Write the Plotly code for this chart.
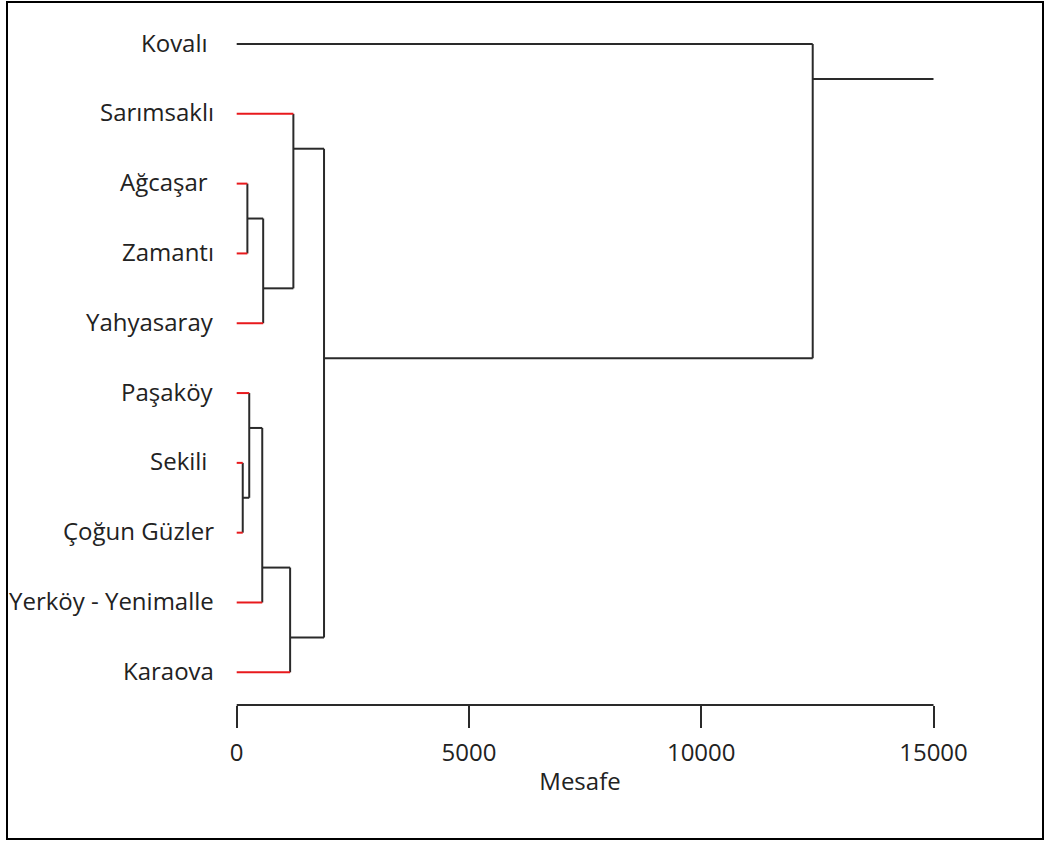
import plotly.graph_objects as go

# Leaf labels, top to bottom (dendrogram order)
leaves = ["Kovalı\u00a0", "Sarımsaklı", "Ağcaşar\u00a0", "Zamantı", "Yahyasaray",
          "Paşaköy", "Sekili\u00a0", "Çoğun Güzler", "Yerköy - Yenimalle", "Karaova"]

# Agglomeration steps: node ids >= len(leaves) refer to earlier merges
merge_left = [6, 2, 5, 12, 11, 13, 1, 16, 0]
merge_right = [7, 3, 10, 8, 4, 9, 14, 15, 17]
merge_height = [130, 230, 270, 550, 570, 1150, 1220, 1880, 12400]

root_end = 15000
x_ticks = [0, 5000, 10000, 15000]
x_title = "Mesafe"
cut_height = 5000  # leaves joining below this height belong to a colored cluster

# ---- page geometry (pixels) ----
W, H = 1046, 843
PL, PR, PT, PB = 200, 960, 10, 705
X0_PX, XMAX_PX = 236.7, 933.5
Y_FIRST, Y_LAST = 44.0, 672.3

x_per_px = 15000 / (XMAX_PX - X0_PX)
x_range = [(PL - X0_PX) * x_per_px, (PR - X0_PX) * x_per_px]
step = (Y_LAST - Y_FIRST) / (len(leaves) - 1)
y_range = [(PB - Y_FIRST) / step, (PT - Y_FIRST) / step]

n = len(leaves)
span = {i: (i, i) for i in range(n)}        # leaf index range of each node
pos = {i: float(i) for i in range(n)}       # vertical position of each node
height = {i: 0.0 for i in range(n)}

black_x, black_y, red_x, red_y = [], [], [], []

def add(xs, ys, seg_x, seg_y):
    xs.extend(seg_x + [None])
    ys.extend(seg_y + [None])

for k, (a, b, h) in enumerate(zip(merge_left, merge_right, merge_height)):
    node = n + k
    span[node] = (min(span[a][0], span[b][0]), max(span[a][1], span[b][1]))
    # node sits on the boundary between its two children
    pos[node] = (span[a][1] + span[b][0]) / 2
    height[node] = h
    for c in (a, b):
        if c < n:
            if h < cut_height:
                add(red_x, red_y, [0, h], [pos[c], pos[c]])
            else:
                add(black_x, black_y, [0, h], [pos[c], pos[c]])
        else:
            add(black_x, black_y, [height[c], h], [pos[c], pos[c]])
    add(black_x, black_y, [h, h], [pos[a], pos[b]])

root = n + len(merge_height) - 1
add(black_x, black_y, [height[root], root_end], [pos[root], pos[root]])

LINE_BLACK = "#2a2a2a"
LINE_RED = "#e8191c"
FONT = "Open Sans, sans-serif"
FS = 24
TEXT = "#222222"

fig = go.Figure()
fig.add_trace(go.Scatter(x=black_x, y=black_y, mode="lines",
                         line=dict(color=LINE_BLACK, width=2), hoverinfo="skip"))
fig.add_trace(go.Scatter(x=red_x, y=red_y, mode="lines",
                         line=dict(color=LINE_RED, width=2), hoverinfo="skip"))

for i, name in enumerate(leaves):
    fig.add_annotation(x=0, y=i, xref="x", yref="y", text=name, showarrow=False,
                       xanchor="right", yanchor="middle", xshift=-21, yshift=2,
                       font=dict(family=FONT, size=FS, color=TEXT))

# axis baseline spanning the tick range only
fig.add_shape(type="line", xref="x", yref="paper", x0=x_ticks[0], x1=x_ticks[-1],
              y0=0, y1=0, line=dict(color=LINE_BLACK, width=2))

# outer frame
pw, ph = PR - PL, PB - PT
fig.add_shape(type="rect", xref="paper", yref="paper",
              x0=(7 - PL) / pw, x1=(1043 - PL) / pw,
              y0=(PB - 839) / ph, y1=(PB - 2) / ph,
              line=dict(color="black", width=2))

fig.update_layout(
    width=W, height=H,
    margin=dict(l=PL, r=W - PR, t=PT, b=H - PB),
    paper_bgcolor="white", plot_bgcolor="white",
    showlegend=False,
    xaxis=dict(range=x_range, tickvals=x_ticks, ticktext=[str(v) for v in x_ticks],
               ticks="outside", ticklen=22, tickwidth=2, tickcolor=LINE_BLACK,
               showline=False, showgrid=False, zeroline=False,
               ticklabelstandoff=4,
               tickfont=dict(family=FONT, size=FS, color=TEXT),
               title=dict(text=x_title, font=dict(family=FONT, size=FS, color=TEXT),
                          standoff=6)),
    yaxis=dict(range=y_range, showticklabels=False, ticks="", showline=False,
               showgrid=False, zeroline=False),
)

fig.write_html("out.html")
